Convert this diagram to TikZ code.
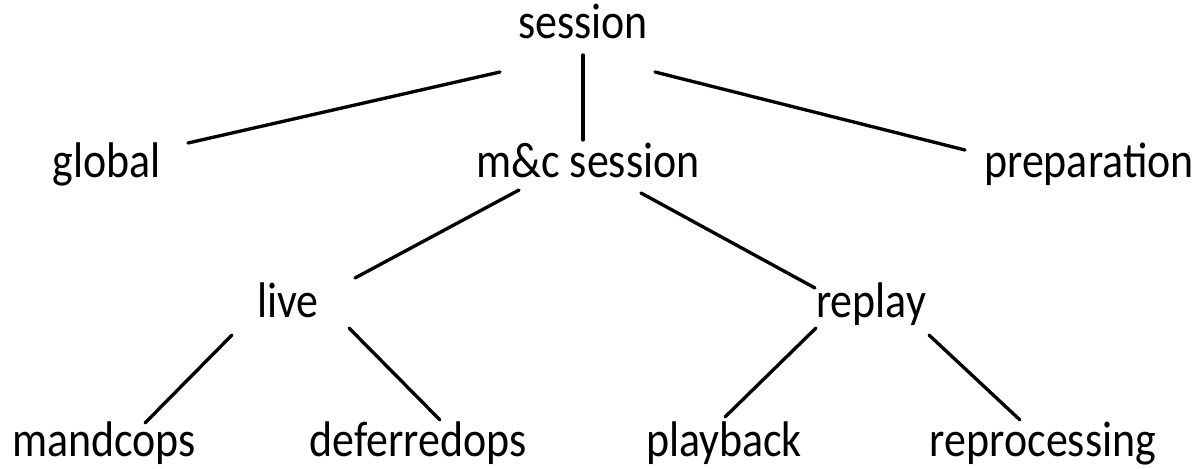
\documentclass[tikz,border=0pt]{standalone}
\usepackage{fontspec}
\usepackage{graphicx}
\setmainfont{Carlito}
\usetikzlibrary{calc}
\newcommand\tallword[1]{\scalebox{1}[1.14]{#1}}
\tikzset{
  term/.style={inner sep=0pt, anchor=base, font=\fontsize{25}{30}\selectfont},
  edge/.style={line width=1.9pt, line cap=round}
}
\begin{document}
\begin{tikzpicture}[x=0.02cm, y=-0.02cm]
  \useasboundingbox (0,0) rectangle (1204,468);
  % tree nodes (placed by baseline)
  \node[term] (session) at (583,38) {\tallword{session}};
  \node[term] (global)  at (107,177) {\tallword{global}};
  \node[term] (mc)      at (588,177) {\tallword{m\&c session}};
  \node[term] (prep)    at (1089,177) {\tallword{preparation}};
  \node[term] (live)    at (288,317) {\tallword{live}};
  \node[term] (replay)  at (871,317) {\tallword{replay}};
  \node[term] (mandc)   at (104,456) {\tallword{mandcops}};
  \node[term] (defer)   at (418,456) {\tallword{deferredops}};
  \node[term] (play)    at (724,456) {\tallword{playback}};
  \node[term] (repro)   at (1043,456) {\tallword{reprocessing}};
  % branches
  \draw[edge] ($(session.base)+(-83,34)$) -- ($(global.base)+(81,-34)$);
  \draw[edge] ($(session.base)+(0,17)$)   -- ($(mc.base)+(-5,-37)$);
  \draw[edge] ($(session.base)+(72,34)$)  -- ($(prep.base)+(-124,-27)$);
  \draw[edge] ($(mc.base)+(-69,13)$)      -- ($(live.base)+(67,-39)$);
  \draw[edge] ($(mc.base)+(53,16)$)       -- ($(replay.base)+(-56,-29)$);
  \draw[edge] ($(live.base)+(-56,18)$)    -- ($(mandc.base)+(41,-33)$);
  \draw[edge] ($(live.base)+(61,11)$)     -- ($(defer.base)+(22,-36)$);
  \draw[edge] ($(replay.base)+(-55,11)$)  -- ($(play.base)+(1,-39)$);
  \draw[edge] ($(replay.base)+(58,18)$)   -- ($(repro.base)+(-23,-36)$);
\end{tikzpicture}
\end{document}
